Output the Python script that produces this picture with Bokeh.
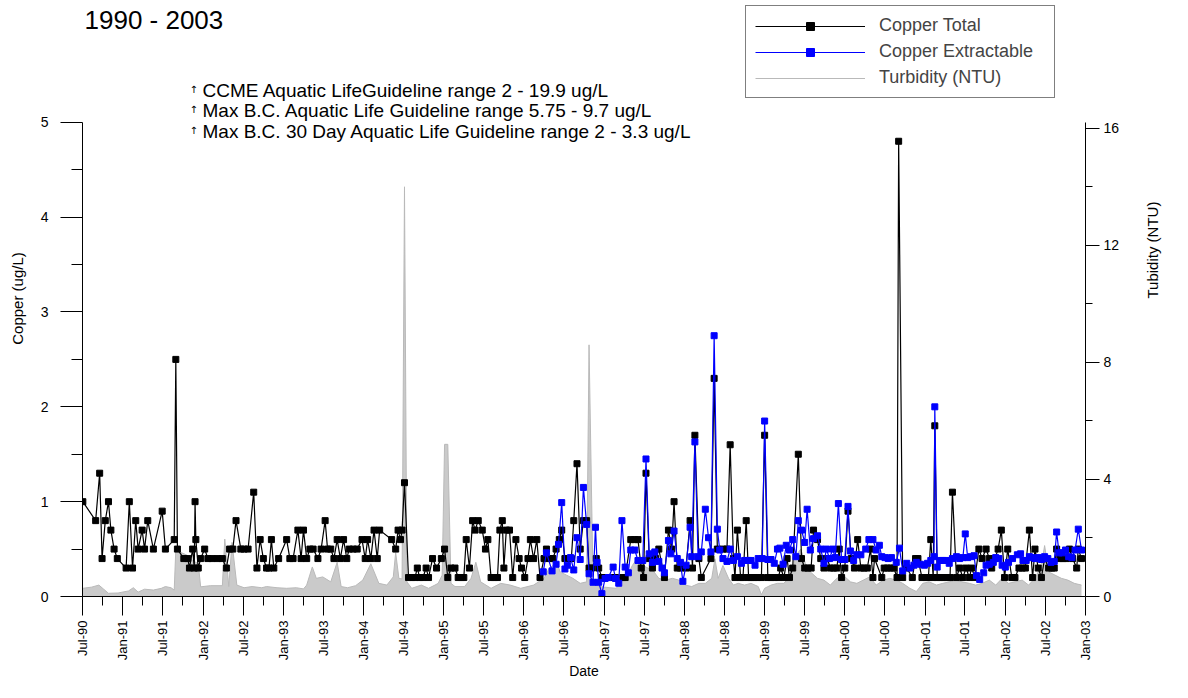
import math
from datetime import datetime
from bokeh.plotting import figure
from bokeh.models import (Range1d, LinearAxis, FixedTicker, DatetimeTickFormatter,
                          Legend, LegendItem, Label)
from bokeh.embed import file_html
from bokeh.resources import INLINE

FONT = "Liberation Sans"

# ---------------- data (dates as decimal years) ----------------
ct_years = [
    1990.50, 1990.66, 1990.71, 1990.74, 1990.78, 1990.82, 1990.85, 1990.89, 1990.93,
    1991.04, 1991.08, 1991.12, 1991.16, 1991.19, 1991.24, 1991.27, 1991.31, 1991.38, 1991.49, 1991.53, 1991.64, 1991.66, 1991.68, 1991.76, 1991.81, 1991.83, 1991.87, 1991.89, 1991.90, 1991.91, 1991.94, 1991.97,
    1992.02, 1992.06, 1992.11, 1992.18, 1992.24, 1992.29, 1992.33, 1992.37, 1992.41, 1992.47, 1992.51, 1992.56, 1992.63, 1992.67, 1992.71, 1992.75, 1992.79, 1992.82, 1992.85, 1992.88, 1992.94,
    1993.04, 1993.08, 1993.12, 1993.18, 1993.22, 1993.25, 1993.29, 1993.33, 1993.37, 1993.43, 1993.47, 1993.52, 1993.55, 1993.59, 1993.63, 1993.67, 1993.71, 1993.75, 1993.79, 1993.82, 1993.87, 1993.92, 1993.98,
    1994.02, 1994.05, 1994.09, 1994.13, 1994.17, 1994.20, 1994.35, 1994.40, 1994.43, 1994.46, 1994.48, 1994.51, 1994.56, 1994.60, 1994.64, 1994.67, 1994.70, 1994.74, 1994.78, 1994.81, 1994.86, 1994.91, 1994.97,
    1995.01, 1995.05, 1995.09, 1995.14, 1995.18, 1995.22, 1995.25, 1995.28, 1995.32, 1995.36, 1995.39, 1995.43, 1995.48, 1995.52, 1995.55, 1995.59, 1995.63, 1995.67, 1995.70, 1995.73, 1995.75, 1995.78, 1995.82, 1995.86, 1995.90, 1995.94, 1995.97,
    1996.01, 1996.05, 1996.08, 1996.12, 1996.16, 1996.20, 1996.25, 1996.28, 1996.32, 1996.36, 1996.40, 1996.44, 1996.47, 1996.51, 1996.55, 1996.59, 1996.62, 1996.66, 1996.70, 1996.74, 1996.78, 1996.81, 1996.84, 1996.90, 1996.93, 1996.97,
    1997.01, 1997.06, 1997.10, 1997.14, 1997.23, 1997.26, 1997.33, 1997.38, 1997.42, 1997.46, 1997.49, 1997.52, 1997.56, 1997.60, 1997.64, 1997.68, 1997.75, 1997.80, 1997.84, 1997.87, 1997.91, 1997.95,
    1998.02, 1998.07, 1998.10, 1998.13, 1998.18, 1998.21, 1998.33, 1998.37, 1998.41, 1998.48, 1998.53, 1998.57, 1998.61, 1998.63, 1998.66, 1998.70, 1998.73, 1998.77, 1998.80, 1998.83, 1998.87, 1998.91, 1998.96,
    1999.00, 1999.04, 1999.08, 1999.12, 1999.17, 1999.20, 1999.24, 1999.28, 1999.31, 1999.35, 1999.42, 1999.46, 1999.50, 1999.54, 1999.58, 1999.61, 1999.66, 1999.70, 1999.74, 1999.78, 1999.82, 1999.86, 1999.90, 1999.93, 1999.96,
    2000.00, 2000.04, 2000.08, 2000.12, 2000.16, 2000.20, 2000.24, 2000.28, 2000.32, 2000.35, 2000.37, 2000.46, 2000.49, 2000.53, 2000.57, 2000.61, 2000.65, 2000.67, 2000.72, 2000.77, 2000.84, 2000.88, 2000.91, 2000.96,
    2001.01, 2001.04, 2001.07, 2001.10, 2001.12, 2001.15, 2001.19, 2001.23, 2001.27, 2001.31, 2001.34, 2001.39, 2001.43, 2001.47, 2001.51, 2001.55, 2001.58, 2001.62, 2001.67, 2001.71, 2001.76, 2001.80, 2001.83, 2001.87, 2001.91, 2001.95, 2001.99,
    2002.03, 2002.08, 2002.12, 2002.17, 2002.21, 2002.25, 2002.30, 2002.34, 2002.37, 2002.41, 2002.45, 2002.49, 2002.54, 2002.58, 2002.61, 2002.64, 2002.68, 2002.72, 2002.76, 2002.80, 2002.84, 2002.89, 2002.91, 2002.95,
]
ct_values = [
    1.0, 0.8, 1.3, 0.4, 0.8, 1.0, 0.7, 0.5, 0.4,
    0.3, 1.0, 0.3, 0.8, 0.5, 0.7, 0.5, 0.8, 0.5, 0.9, 0.5, 0.6, 2.5, 0.5, 0.4, 0.4, 0.3, 0.5, 0.3, 1.0, 0.6, 0.3, 0.4,
    0.5, 0.4, 0.4, 0.4, 0.4, 0.3, 0.5, 0.5, 0.8, 0.5, 0.5, 0.5, 1.1, 0.3, 0.6, 0.4, 0.3, 0.3, 0.6, 0.3, 0.4,
    0.6, 0.4, 0.4, 0.7, 0.4, 0.7, 0.4, 0.5, 0.5, 0.4, 0.5, 0.8, 0.5, 0.5, 0.4, 0.6, 0.4, 0.6, 0.4, 0.5, 0.5, 0.5, 0.6,
    0.4, 0.6, 0.4, 0.7, 0.4, 0.7, 0.6, 0.5, 0.7, 0.6, 0.7, 1.2, 0.2, 0.2, 0.2, 0.3, 0.2, 0.2, 0.3, 0.2, 0.4, 0.3, 0.4,
    0.5, 0.2, 0.3, 0.3, 0.2, 0.2, 0.2, 0.6, 0.3, 0.8, 0.7, 0.8, 0.7, 0.5, 0.6, 0.2, 0.2, 0.2, 0.7, 0.8, 0.3, 0.7, 0.7, 0.2, 0.6, 0.4, 0.3,
    0.2, 0.4, 0.6, 0.4, 0.6, 0.2, 0.4, 0.5, 0.4, 0.4, 0.5, 0.6, 0.7, 0.4, 0.4, 0.4, 0.8, 1.4, 0.5, 0.8, 0.8, 0.3, 0.3, 0.4, 0.3, 0.2,
    0.2, 0.2, 0.2, 0.2, 0.2, 0.2, 0.6, 0.6, 0.6, 0.3, 0.2, 1.3, 0.4, 0.3, 0.4, 0.5, 0.2, 0.7, 0.5, 1.0, 0.3, 0.3,
    0.3, 0.8, 0.3, 1.7, 0.4, 0.2, 0.4, 2.3, 0.5, 0.5, 0.5, 1.6, 0.4, 0.2, 0.7, 0.2, 0.2, 0.8, 0.2, 0.2, 0.2, 0.2, 0.2,
    1.7, 0.2, 0.2, 0.2, 0.2, 0.3, 0.2, 0.4, 0.2, 0.3, 1.5, 0.4, 0.3, 0.3, 0.3, 0.7, 0.6, 0.4, 0.3, 0.4, 0.3, 0.3, 0.3, 0.5, 0.2,
    0.3, 0.9, 0.4, 0.3, 0.6, 0.3, 0.3, 0.3, 0.5, 0.2, 0.4, 0.2, 0.3, 0.3, 0.3, 0.3, 0.2, 4.8, 0.2, 0.3, 0.2, 0.4, 0.4, 0.2,
    0.2, 0.2, 0.6, 0.2, 1.8, 0.2, 0.2, 0.2, 0.2, 0.2, 1.1, 0.2, 0.3, 0.2, 0.3, 0.2, 0.3, 0.2, 0.5, 0.4, 0.5, 0.4, 0.3, 0.4, 0.5, 0.7, 0.2,
    0.5, 0.2, 0.2, 0.3, 0.3, 0.3, 0.7, 0.2, 0.5, 0.3, 0.2, 0.4, 0.3, 0.3, 0.3, 0.5, 0.4, 0.4, 0.4, 0.5, 0.4, 0.3, 0.5, 0.4,
]

ce_years = [
    1996.24, 1996.28, 1996.35, 1996.40, 1996.43, 1996.47, 1996.51, 1996.54, 1996.58, 1996.62, 1996.66, 1996.70, 1996.74, 1996.78, 1996.81, 1996.86, 1996.89, 1996.91, 1996.93, 1996.97,
    1997.01, 1997.05, 1997.11, 1997.14, 1997.18, 1997.22, 1997.26, 1997.30, 1997.33, 1997.38, 1997.42, 1997.48, 1997.52, 1997.56, 1997.60, 1997.63, 1997.68, 1997.72, 1997.75, 1997.80, 1997.83, 1997.87, 1997.91, 1997.95, 1997.98,
    1998.02, 1998.07, 1998.09, 1998.13, 1998.17, 1998.21, 1998.26, 1998.30, 1998.33, 1998.37, 1998.41, 1998.44, 1998.48, 1998.53, 1998.57, 1998.61, 1998.66, 1998.71, 1998.75, 1998.80, 1998.83, 1998.88, 1998.92, 1998.97,
    1999.00, 1999.04, 1999.08, 1999.12, 1999.16, 1999.19, 1999.23, 1999.27, 1999.31, 1999.35, 1999.39, 1999.42, 1999.46, 1999.50, 1999.53, 1999.57, 1999.61, 1999.66, 1999.70, 1999.74, 1999.77, 1999.81, 1999.85, 1999.88, 1999.92, 1999.96,
    2000.00, 2000.04, 2000.07, 2000.11, 2000.15, 2000.20, 2000.26, 2000.30, 2000.35, 2000.39, 2000.43, 2000.46, 2000.50, 2000.54, 2000.58, 2000.64, 2000.68, 2000.72, 2000.77, 2000.81, 2000.86, 2000.89, 2000.94, 2000.99,
    2001.03, 2001.07, 2001.11, 2001.12, 2001.15, 2001.19, 2001.22, 2001.26, 2001.30, 2001.34, 2001.39, 2001.43, 2001.47, 2001.50, 2001.53, 2001.57, 2001.61, 2001.64, 2001.68, 2001.73, 2001.76, 2001.80, 2001.85, 2001.88, 2001.92, 2001.96,
    2002.00, 2002.04, 2002.09, 2002.15, 2002.19, 2002.22, 2002.26, 2002.30, 2002.33, 2002.37, 2002.41, 2002.45, 2002.49, 2002.53, 2002.57, 2002.61, 2002.64, 2002.67, 2002.71, 2002.75, 2002.79, 2002.83, 2002.87, 2002.91, 2002.95,
]
ce_values = [
    0.26, 0.46, 0.27, 0.34, 0.55, 0.99, 0.29, 0.33, 0.41, 0.28, 0.62, 0.39, 1.15, 0.76, 0.24, 0.15, 0.73, 0.36, 0.15, 0.03,
    0.19, 0.20, 0.31, 0.19, 0.14, 0.80, 0.31, 0.25, 0.49, 0.49, 0.38, 0.38, 1.45, 0.45, 0.36, 0.47, 0.37, 0.30, 0.25, 0.59, 0.45, 0.69, 0.40, 0.36, 0.16,
    0.33, 0.73, 0.42, 1.63, 0.42, 0.47, 0.92, 0.62, 0.47, 2.75, 0.71, 0.49, 0.40, 0.37, 0.50, 0.38, 0.42, 0.35, 0.38, 0.38, 0.38, 0.33, 0.40, 0.40,
    1.85, 0.39, 0.39, 0.35, 0.50, 0.51, 0.34, 0.54, 0.49, 0.60, 0.42, 0.80, 0.70, 0.57, 0.92, 0.49, 0.61, 0.64, 0.50, 0.35, 0.50, 0.40, 0.50, 0.41, 0.98, 0.39,
    0.39, 0.95, 0.48, 0.38, 0.44, 0.44, 0.50, 0.60, 0.60, 0.49, 0.54, 0.42, 0.41, 0.40, 0.41, 0.36, 0.51, 0.27, 0.35, 0.30, 0.33, 0.36, 0.34, 0.33,
    0.35, 0.38, 0.42, 2.00, 0.31, 0.38, 0.38, 0.38, 0.35, 0.40, 0.42, 0.40, 0.41, 0.66, 0.41, 0.42, 0.43, 0.22, 0.18, 0.25, 0.33, 0.34, 0.36, 0.41, 0.40, 0.33,
    0.31, 0.36, 0.40, 0.44, 0.45, 0.38, 0.38, 0.42, 0.41, 0.40, 0.41, 0.39, 0.42, 0.40, 0.36, 0.37, 0.68, 0.46, 0.46, 0.49, 0.42, 0.41, 0.49, 0.71, 0.49,
]

tb_years = [
    1990.50, 1990.61, 1990.70, 1990.76, 1990.82, 1990.94,
    1991.07, 1991.13, 1991.19, 1991.27, 1991.38, 1991.48, 1991.53, 1991.60, 1991.64, 1991.66, 1991.72, 1991.81, 1991.87, 1991.94, 1991.97,
    1992.09, 1992.24, 1992.27, 1992.32, 1992.36, 1992.42, 1992.51, 1992.61, 1992.73, 1992.79, 1992.92,
    1993.04, 1993.16, 1993.25, 1993.29, 1993.36, 1993.41, 1993.49, 1993.59, 1993.67, 1993.72, 1993.80, 1993.90, 1993.99,
    1994.09, 1994.19, 1994.29, 1994.37, 1994.40, 1994.44, 1994.48, 1994.51, 1994.54, 1994.60, 1994.72, 1994.81, 1994.89, 1994.93, 1994.98,
    1995.01, 1995.05, 1995.09, 1995.14, 1995.26, 1995.34, 1995.40, 1995.46, 1995.59, 1995.71, 1995.83, 1995.96,
    1996.12, 1996.25, 1996.31, 1996.41, 1996.45, 1996.53, 1996.61, 1996.70, 1996.78, 1996.81, 1996.86, 1996.94,
    1997.07, 1997.15, 1997.19, 1997.27, 1997.35, 1997.42, 1997.48, 1997.56, 1997.62, 1997.68, 1997.76, 1997.85, 1997.93,
    1998.01, 1998.09, 1998.18, 1998.26, 1998.34, 1998.38, 1998.42, 1998.48, 1998.55, 1998.61, 1998.67, 1998.75, 1998.83, 1998.92, 1998.96,
    1999.00, 1999.08, 1999.16, 1999.24, 1999.33, 1999.39, 1999.45, 1999.51, 1999.57, 1999.66, 1999.74, 1999.82, 1999.90, 1999.98,
    2000.07, 2000.15, 2000.23, 2000.31, 2000.39, 2000.48, 2000.56, 2000.64, 2000.72, 2000.81, 2000.89, 2000.97,
    2001.05, 2001.14, 2001.22, 2001.30, 2001.38, 2001.46, 2001.55, 2001.63, 2001.71, 2001.80, 2001.88, 2001.96,
    2002.04, 2002.12, 2002.21, 2002.29, 2002.37, 2002.45, 2002.49, 2002.54, 2002.62, 2002.70, 2002.78, 2002.86, 2002.95,
]
tb_values = [
    0.28, 0.32, 0.39, 0.25, 0.11, 0.12,
    0.19, 0.30, 0.15, 0.25, 0.22, 0.28, 0.34, 0.30, 0.22, 1.62, 1.51, 1.40, 1.23, 1.12, 0.33,
    0.37, 0.37, 1.96, 0.34, 1.85, 0.39, 0.30, 0.34, 0.30, 0.34, 0.30,
    0.28, 0.30, 0.26, 0.39, 1.01, 0.62, 0.67, 0.50, 1.17, 0.34, 0.30, 0.37, 0.56,
    1.12, 0.45, 0.39, 0.67, 1.50, 0.62, 0.60, 14.0, 0.50, 0.28, 0.39, 0.28, 0.39, 0.45, 0.73,
    5.2, 5.2, 0.45, 0.34, 0.34, 0.62, 1.17, 0.50, 0.28, 0.45, 0.39, 0.28,
    0.39, 0.62, 0.95, 1.17, 0.84, 0.73, 0.62, 0.45, 0.50, 8.6, 0.45, 0.34,
    0.30, 0.28, 0.45, 0.62, 1.06, 1.34, 1.06, 0.95, 0.84, 0.62, 0.56, 0.62, 0.56,
    0.39, 0.34, 0.45, 0.45, 0.62, 1.29, 0.62, 1.06, 0.62, 0.39, 0.45, 0.39, 0.45, 0.34, 0.06,
    0.28, 0.39, 0.45, 0.45, 0.73, 1.40, 1.62, 1.12, 0.84, 0.62, 0.56, 0.39, 0.62, 0.73,
    0.50, 0.45, 0.56, 0.67, 0.39, 0.56, 0.62, 0.56, 0.45, 0.28, 0.17, 0.45,
    0.50, 0.39, 0.45, 0.50, 0.56, 0.50, 0.45, 0.39, 0.45, 0.56, 0.39, 0.62,
    0.45, 0.50, 0.56, 0.39, 0.62, 1.06, 1.74, 0.84, 0.73, 0.62, 0.56, 0.45, 0.39,
]

copper_ticks = [0, 1, 2, 3, 4, 5]
copper_minor = [0.5, 1.5, 2.5, 3.5, 4.5]
turb_ticks = [0, 4, 8, 12, 16]
turb_minor = [2, 6, 10, 14]

title_text = "1990 - 2003"
guideline_texts = [
    "CCME Aquatic LifeGuideline range 2 - 19.9 ug/L",
    "Max B.C. Aquatic Life Guideline range 5.75 - 9.7 ug/L",
    "Max B.C. 30 Day Aquatic Life Guideline range 2 - 3.3 ug/L",
]


def dec_to_dt(d):
    y = int(d)
    frac = d - y
    start = datetime(y, 1, 1)
    end = datetime(y + 1, 1, 1)
    return start + (end - start) * frac


def to_ms(dt):
    return (dt - datetime(1970, 1, 1)).total_seconds() * 1000.0


ct_x = [dec_to_dt(d) for d in ct_years]
ce_x = [dec_to_dt(d) for d in ce_years]
tb_x = [dec_to_dt(d) for d in tb_years]

x_start = datetime(1990, 7, 1)
x_end = datetime(2003, 1, 1)

major_dates = []
minor_dates = []
for yr in range(1990, 2004):
    for m in (1, 7):
        d = datetime(yr, m, 1)
        if x_start <= d <= x_end:
            major_dates.append(to_ms(d))
    for m in (4, 10):
        d = datetime(yr, m, 1)
        if x_start <= d <= x_end:
            minor_dates.append(to_ms(d))

# ---------------- layout geometry (pixels) ----------------
W, H = 1172, 682
BORDER_L, BORDER_R, BORDER_B = 82, 76, 85
FRAME_H = H - BORDER_B            # frame reaches the top of the canvas
COPPER_TOP_PX = 122               # where copper = 5 sits (from canvas top)
TURB_TOP_PX = 128                 # where turbidity = 16 sits
copper_max = 5.0
turb_max = 16.0
y_top = copper_max * FRAME_H / (FRAME_H - COPPER_TOP_PX)
turb_top = turb_max * FRAME_H / (FRAME_H - TURB_TOP_PX)

p = figure(width=W, height=H, x_axis_type="datetime",
           output_backend="svg", toolbar_location=None,
           x_range=Range1d(x_start, x_end), y_range=Range1d(0, y_top),
           min_border_left=BORDER_L, min_border_right=BORDER_R,
           min_border_top=0, min_border_bottom=BORDER_B)
p.extra_y_ranges = {"turb": Range1d(0, turb_top)}
p.outline_line_color = None
p.xgrid.visible = False
p.ygrid.visible = False
p.background_fill_color = "white"
p.border_fill_color = "white"

# turbidity area
p.varea(x=tb_x, y1=0, y2=tb_values, y_range_name="turb",
        fill_color="#cacaca", fill_alpha=1.0)
r_tl = p.line(tb_x, tb_values, y_range_name="turb",
              line_color="#b9b9b9", line_width=1)

# copper total
r_cl = p.line(ct_x, ct_values, line_color="#000000", line_width=1.2)
r_cs = p.scatter(ct_x, ct_values, marker="square", size=6,
                 fill_color="#000000", line_color="#000000")

# copper extractable
r_el = p.line(ce_x, ce_values, line_color="#0000ff", line_width=1.2)
r_es = p.scatter(ce_x, ce_values, marker="square", size=6,
                 fill_color="#0000ff", line_color="#0000ff")

# left axis
ya = p.yaxis[0]
ya.ticker = FixedTicker(ticks=copper_ticks, minor_ticks=copper_minor)
ya.bounds = (0, copper_max)
ya.axis_label = "Copper (ug/L)"
ya.major_tick_out = 22
ya.major_tick_in = 0
ya.minor_tick_out = 11
ya.minor_tick_in = 0
ya.major_label_standoff = 12
ya.axis_label_standoff = 12

# right axis
ra = LinearAxis(y_range_name="turb", axis_label="Tubidity (NTU)",
                ticker=FixedTicker(ticks=turb_ticks, minor_ticks=turb_minor))
ra.bounds = (0, turb_top * (FRAME_H - COPPER_TOP_PX) / FRAME_H)
ra.major_tick_out = 14
ra.major_tick_in = 0
ra.minor_tick_out = 7
ra.minor_tick_in = 0
ra.major_label_standoff = 4
ra.axis_label_standoff = 30
try:
    ra.axis_label_orientation = math.pi / 2
except Exception:
    pass
p.add_layout(ra, "right")

# bottom axis
xa = p.xaxis[0]
xa.ticker = FixedTicker(ticks=major_dates, minor_ticks=minor_dates)
fmt = "%b-%y"
xa.formatter = DatetimeTickFormatter(
    microseconds=fmt, milliseconds=fmt, seconds=fmt, minsec=fmt, minutes=fmt,
    hourmin=fmt, hours=fmt, days=fmt, months=fmt, years=fmt)
xa.major_label_orientation = math.pi / 2
xa.axis_label = "Date"
xa.major_tick_out = 19
xa.major_tick_in = 0
xa.minor_tick_out = 9
xa.minor_tick_in = 0
xa.major_label_standoff = 5
xa.axis_label_standoff = 0

for ax in (ya, ra, xa):
    ax.axis_line_color = "black"
    ax.major_tick_line_color = "black"
    ax.minor_tick_line_color = "black"
    ax.axis_label_text_font = FONT
    ax.axis_label_text_font_style = "normal"
    ax.axis_label_text_font_size = "15px"
    ax.axis_label_text_color = "black"
    ax.major_label_text_font = FONT
    ax.major_label_text_color = "black"
ya.major_label_text_font_size = "14px"
ra.major_label_text_font_size = "14px"
xa.major_label_text_font_size = "13px"
xa.axis_label_text_font_size = "14px"

# legend (top right, above the data area)
legend = Legend(items=[
    LegendItem(label="Copper Total", renderers=[r_cl, r_cs]),
    LegendItem(label="Copper Extractable", renderers=[r_el, r_es]),
    LegendItem(label="Turbidity (NTU)", renderers=[r_tl]),
], location=(745 - BORDER_L, FRAME_H - 99), glyph_width=110, glyph_height=20,
    label_height=20, label_width=166, spacing=5, padding=9, margin=0, label_standoff=14,
    border_line_color="black", border_line_width=1,
    background_fill_color="white", background_fill_alpha=1.0,
    label_text_font=FONT, label_text_font_size="18px")
p.add_layout(legend)

# title and guideline notes (screen units, relative to the frame)
p.add_layout(Label(x=2, y=FRAME_H - 5, x_units="screen", y_units="screen",
                   text=title_text, text_font=FONT, text_font_size="26px",
                   text_baseline="top", text_color="black"))
for i, t in enumerate(guideline_texts):
    ytop = FRAME_H - 80 - 20.5 * i
    p.add_layout(Label(x=189 - BORDER_L, y=ytop - 4, x_units="screen", y_units="screen",
                       text="\u2191", text_font="DejaVu Sans", text_font_size="10px",
                       text_baseline="top", text_color="black"))
    p.add_layout(Label(x=202 - BORDER_L, y=ytop, x_units="screen", y_units="screen",
                       text=t, text_font=FONT, text_font_size="19px",
                       text_baseline="top", text_color="black"))

open("out.html", "w").write(file_html(p, INLINE))
